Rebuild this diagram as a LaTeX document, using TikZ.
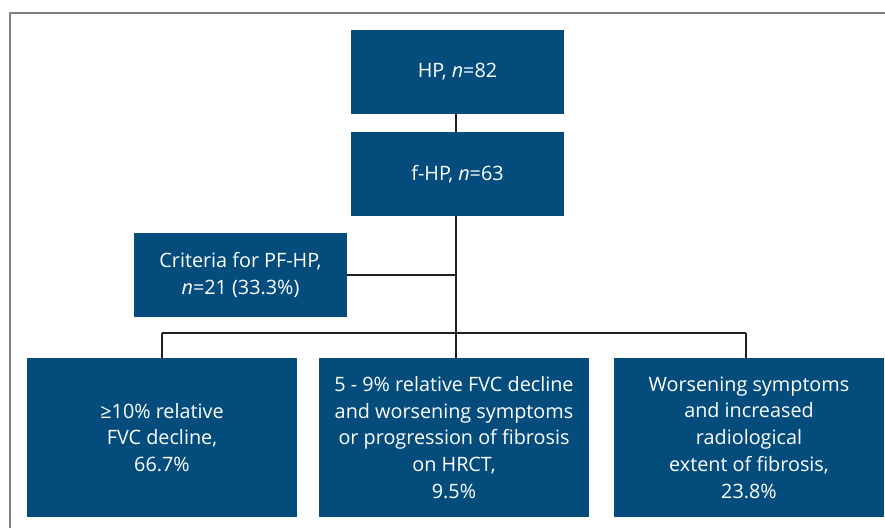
\documentclass[tikz,border=0pt]{standalone}
\usepackage{fontspec}
\setmainfont{Open Sans}
\definecolor{boxblue}{RGB}{4,76,124}
\definecolor{framegray}{RGB}{128,128,128}
\definecolor{linedark}{RGB}{35,31,32}
\begin{document}
\begin{tikzpicture}[x=1pt,y=-1pt,
  bluebox/.style={rectangle, fill=boxblue, draw=none, text=white, align=center, inner sep=0pt,
    font=\fontsize{19.8}{26.7}\selectfont},
  conn/.style={draw=linedark, line width=1.5pt}]
\useasboundingbox (0,0) rectangle (885,528);
% frame
\draw[framegray, line width=1.6pt] (10,528) -- (10,13) -- (886,13);
% nodes
\node[bluebox, minimum width=213pt, minimum height=84pt] (hp) at (457.5,72) {HP, \textit{n}=82};
\node[bluebox, minimum width=213pt, minimum height=84pt] (fhp) at (457.5,174) {f-HP, \textit{n}=63};
\node[bluebox, minimum width=213pt, minimum height=84pt] (crit) at (240.5,275) {Criteria for PF-HP,\\\textit{n}=21 (33.3\%)};
\node[bluebox, minimum width=270pt, minimum height=159pt] (b1) at (162,437.5) {≥10\% relative\\FVC decline,\\66.7\%};
\node[bluebox, minimum width=270pt, minimum height=159pt] (b2) at (454,437.5) {5 - 9\% relative FVC decline\\and worsening symptoms\\or progression of fibrosis\\on HRCT,\\9.5\%};
\node[bluebox, minimum width=270pt, minimum height=159pt] (b3) at (749,437.5) {Worsening symptoms\\and increased\\radiological\\extent of fibrosis,\\23.8\%};
% coordinates
\coordinate (bar) at (456,333);
\coordinate (barL) at (162,333);
\coordinate (barR) at (746,333);
% connectors
\draw[conn] (hp.south -| bar) -- (fhp.north -| bar);
\draw[conn] (fhp.south -| bar) -- (bar);
\draw[conn] (crit.east) -- (crit.east -| bar);
\draw[conn] (barL) -- (barR);
\draw[conn] (barL) -- (b1.north -| barL);
\draw[conn] (bar) -- (b2.north -| bar);
\draw[conn] (barR) -- (b3.north -| barR);
\end{tikzpicture}
\end{document}
